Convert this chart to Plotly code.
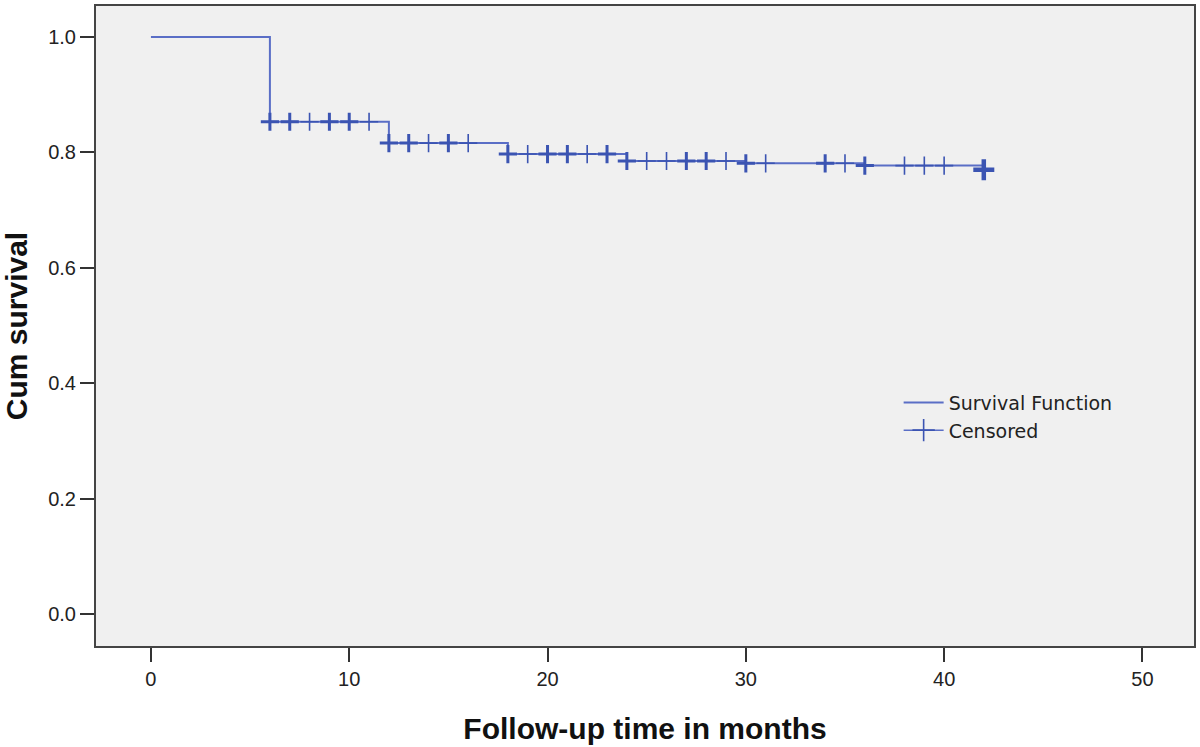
import plotly.graph_objects as go

# Kaplan-Meier step function (event times and survival after each step)
event_times = [0, 6, 12, 18, 24, 30, 36, 42]
survival = [1.0, 0.853, 0.816, 0.797, 0.785, 0.781, 0.777, 0.770]

# Censored observations (months) and how many share each time
censor_times = [6, 7, 8, 9, 10, 11, 12, 13, 14, 15, 16, 18, 19, 20, 21, 22, 23,
                24, 25, 26, 27, 28, 29, 30, 31, 34, 35, 36, 38, 39, 40, 42]
censor_counts = [2, 2, 1, 2, 2, 1, 2, 2, 1, 2, 1, 2, 1, 2, 2, 1, 2,
                 2, 1, 1, 2, 2, 1, 2, 1, 2, 1, 2, 1, 1, 1, 3]

x_ticks = [0, 10, 20, 30, 40, 50]
y_ticks = [0.0, 0.2, 0.4, 0.6, 0.8, 1.0]


def surv_at(t):
    s = survival[0]
    for et, sv in zip(event_times, survival):
        if et <= t:
            s = sv
    return s


LINE_C = "#5a6ec6"
MARK_C = "#3b54b2"

fig = go.Figure()
fig.add_trace(go.Scatter(
    x=event_times, y=survival, mode="lines", line=dict(shape="hv", color=LINE_C, width=2),
    name="Survival Function", showlegend=True, hoverinfo="skip"))

for cnt, lw, sz in [(1, 1.6, 13), (2, 3.0, 13), (3, 4.5, 15)]:
    xs = [t for t, c in zip(censor_times, censor_counts) if c == cnt]
    ys = [surv_at(t) for t in xs]
    fig.add_trace(go.Scatter(
        x=xs, y=ys, mode="markers",
        marker=dict(symbol="cross-thin", size=sz, line=dict(color=MARK_C, width=lw)),
        showlegend=False, name="Censored"))

# legend entry for censored marks
fig.add_trace(go.Scatter(
    x=[None], y=[None], mode="lines+markers", name="Censored",
    line=dict(color=LINE_C, width=1.5),
    marker=dict(symbol="cross-thin", size=16, line=dict(color=MARK_C, width=1.6))))

axis_font = dict(family="Liberation Sans, Arial, sans-serif", size=20, color="#222222")
fig.update_layout(
    width=1200, height=747,
    margin=dict(l=96, r=4, t=4, b=101),
    paper_bgcolor="white", plot_bgcolor="#f0f0f0",
    font=dict(family="Liberation Sans, Arial, sans-serif", color="#222222"),
    showlegend=True,
    legend=dict(x=0.731, y=0.41, xanchor="left", yanchor="top",
                bgcolor="rgba(0,0,0,0)",
                font=dict(family="DejaVu Sans, sans-serif", size=19, color="#222222"),
                tracegroupgap=0, itemwidth=40),
    xaxis=dict(range=[-2.77, 52.6], tickvals=x_ticks, ticktext=[str(v) for v in x_ticks],
               showgrid=False, zeroline=False, ticks="outside", ticklen=14, tickwidth=2,
               tickcolor="#333333", tickfont=axis_font, showline=True, linecolor="#444444",
               linewidth=2, mirror=True,
               title=dict(text="<b>Follow-up time in months</b>",
                          font=dict(size=30, color="#111111"), standoff=29)),
    yaxis=dict(range=[-0.0553, 1.0535], tickvals=y_ticks, ticktext=[f"{v:.1f}" for v in y_ticks],
               showgrid=False, zeroline=False, ticks="outside", ticklen=14, tickwidth=2,
               tickcolor="#333333", tickfont=axis_font, showline=True, linecolor="#444444",
               linewidth=2, mirror=True,
               title=dict(text="<b>Cum survival</b>",
                          font=dict(size=30, color="#111111"), standoff=14)),
)

fig.write_html("out.html", config={"displayModeBar": False},
               post_script="document.body.style.margin='0';")
